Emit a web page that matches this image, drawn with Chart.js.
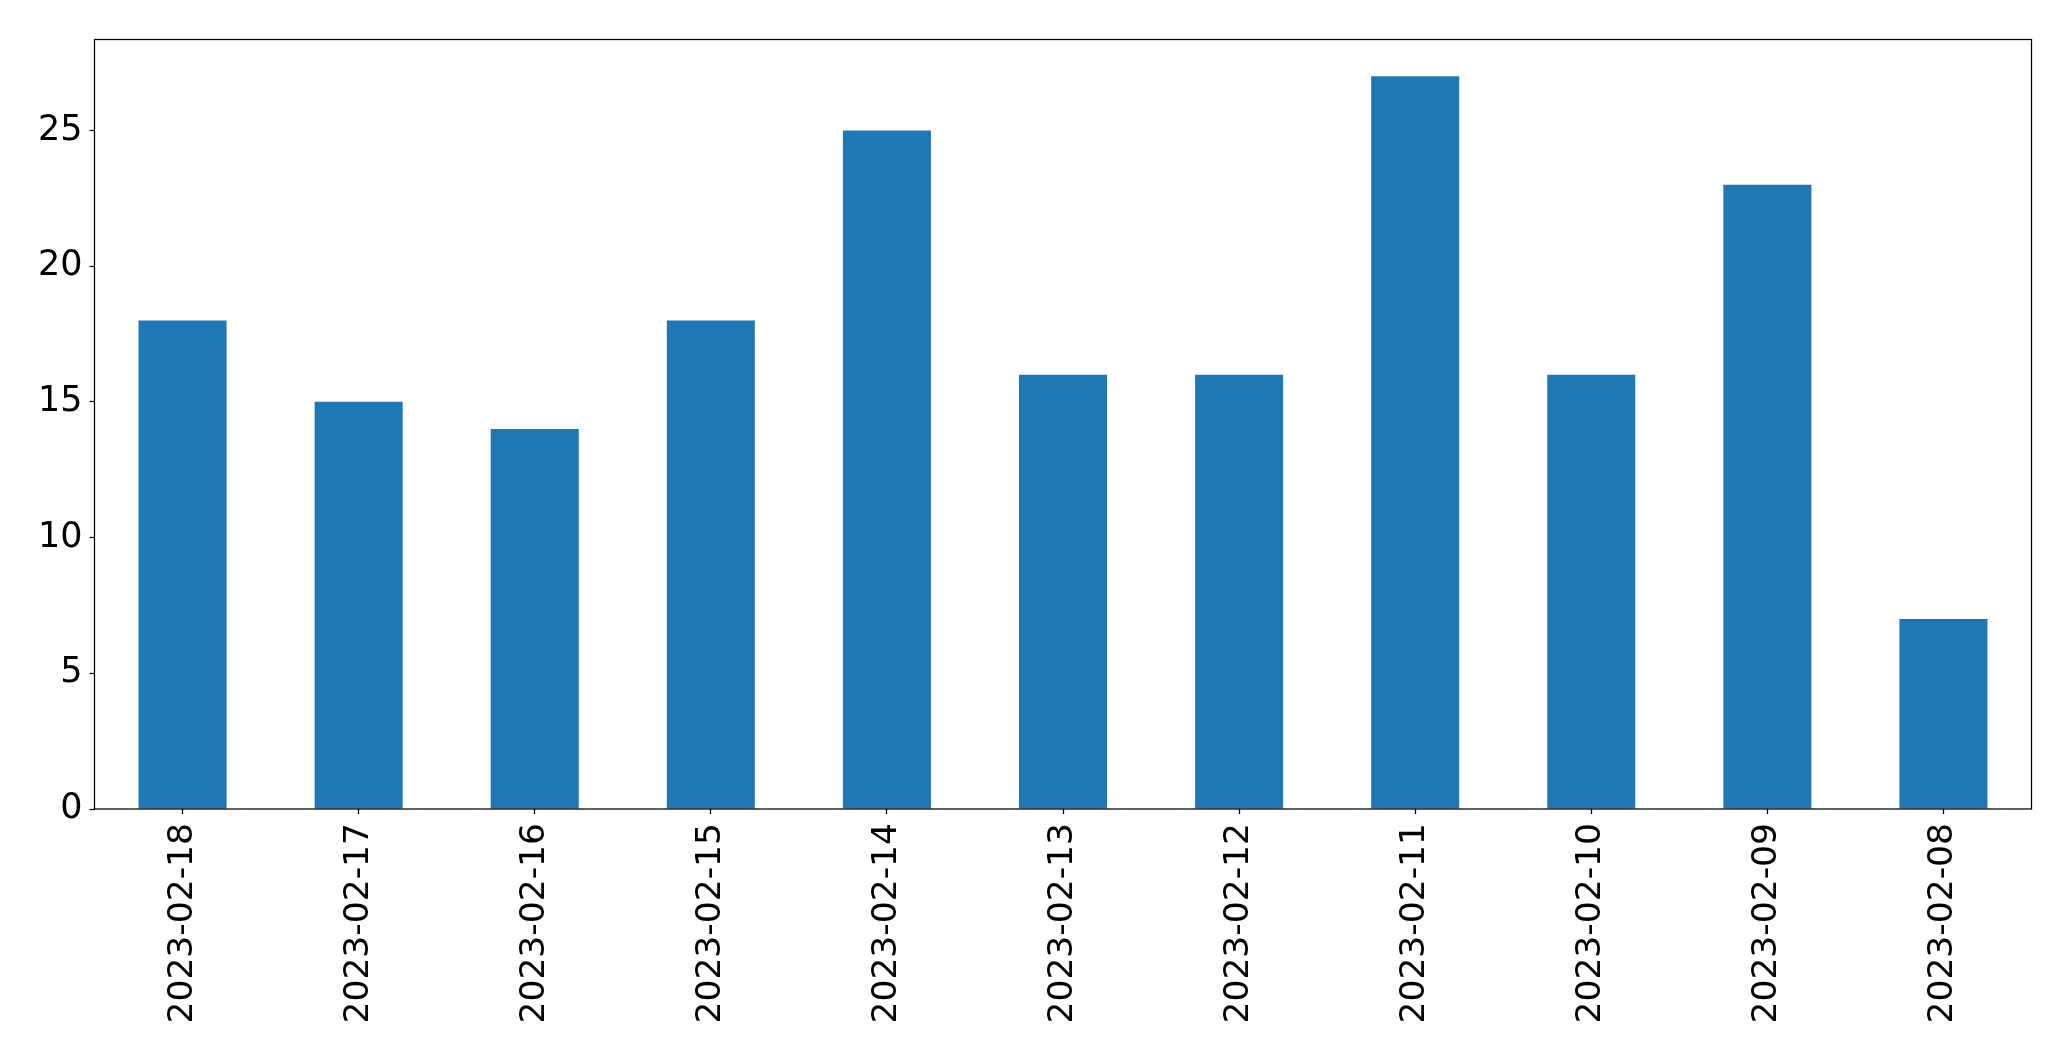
<!DOCTYPE html>
<html>
<head>
<meta charset="utf-8">
<script src="https://cdn.jsdelivr.net/npm/chart.js@4/dist/chart.umd.min.js"></script>
<style>
html,body{margin:0;padding:0;background:#fff;}
#wrap{width:2071px;height:1061px;}
</style>
</head>
<body>
<div id="wrap"><canvas id="c" width="2071" height="1061"></canvas></div>
<script>
const categories = ["2023-02-18","2023-02-17","2023-02-16","2023-02-15","2023-02-14","2023-02-13","2023-02-12","2023-02-11","2023-02-10","2023-02-09","2023-02-08"];
const counts = [18,15,14,18,25,16,16,27,16,23,7];
const yTicks = [0,5,10,15,20,25];
const yMax = 28.35;

const framePlugin = {
  id: 'frame',
  afterDraw(chart) {
    const a = chart.chartArea, ctx = chart.ctx;
    ctx.save();
    ctx.strokeStyle = '#000';
    ctx.lineWidth = 1.25;
    ctx.strokeRect(a.left, a.top, a.right - a.left, a.bottom - a.top);
    ctx.restore();
  }
};

new Chart(document.getElementById('c'), {
  type: 'bar',
  data: {
    labels: categories,
    datasets: [{
      data: counts,
      backgroundColor: '#1f77b4',
      borderWidth: 0,
      barPercentage: 0.5,
      categoryPercentage: 1.0
    }]
  },
  options: {
    responsive: false,
    animation: false,
    devicePixelRatio: 1,
    layout: { padding: { top: 39.5, right: 39.5, left: 0, bottom: 0 } },
    plugins: { legend: { display: false }, tooltip: { enabled: false } },
    scales: {
      x: {
        offset: true,
        grid: { drawOnChartArea: false, drawTicks: true, tickLength: 5, tickColor: '#000', tickWidth: 1.25, offset: false },
        border: { display: false },
        ticks: {
          color: '#000',
          font: { family: 'DejaVu Sans', size: 34.5 },
          minRotation: 90, maxRotation: 90, autoSkip: false, padding: 9
        },
        afterFit(scale) { scale.height = 1061 - 809; }
      },
      y: {
        min: 0, max: yMax,
        grid: { drawOnChartArea: false, drawTicks: true, tickLength: 5, tickColor: '#000', tickWidth: 1.25 },
        border: { display: false },
        ticks: {
          color: '#000',
          font: { family: 'DejaVu Sans', size: 35 },
          stepSize: 5, includeBounds: false, padding: 7
        },
        afterBuildTicks(scale) { scale.ticks = yTicks.map(v => ({ value: v })); },
        afterFit(scale) { scale.width = 94.5; }
      }
    }
  },
  plugins: [framePlugin]
});
</script>
</body>
</html>
